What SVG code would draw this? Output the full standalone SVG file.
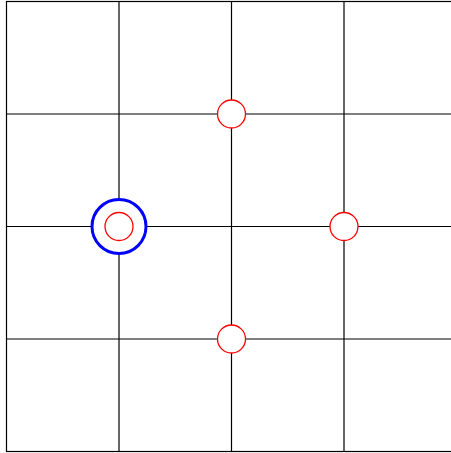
<svg xmlns="http://www.w3.org/2000/svg" width="451" height="453" viewBox="0 0 451 453">
<style>
.g{stroke:#000;stroke-width:1.2;fill:none}
.r{stroke:#f00;stroke-width:1.3;fill:#fff}
.b{stroke:#00f;stroke-width:3;fill:#fff}
</style>
<rect width="451" height="453" fill="#fff"/>
<g id="grid" class="g">
<rect x="6.5" y="1.5" width="450" height="450"/>
<line x1="119" y1="1.5" x2="119" y2="451.5"/>
<line x1="231.5" y1="1.5" x2="231.5" y2="451.5"/>
<line x1="344" y1="1.5" x2="344" y2="451.5"/>
<line x1="6.5" y1="114" x2="456.5" y2="114"/>
<line x1="6.5" y1="226.5" x2="456.5" y2="226.5"/>
<line x1="6.5" y1="339" x2="456.5" y2="339"/>
</g>
<g id="blue"><circle class="b" cx="119" cy="226.5" r="27"/></g>
<g id="n1"><circle class="r" cx="119" cy="226.5" r="14"/></g>
<g id="n2"><circle class="r" cx="231.5" cy="114" r="14"/></g>
<g id="n3"><circle class="r" cx="344" cy="226.5" r="14"/></g>
<g id="n4"><circle class="r" cx="231.5" cy="339" r="14"/></g>
</svg>
